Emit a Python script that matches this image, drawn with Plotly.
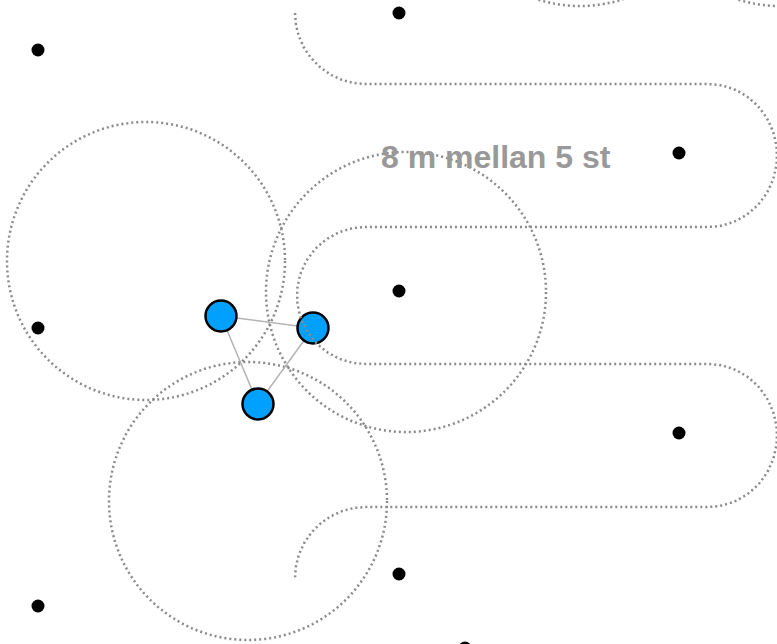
import numpy as np
import plotly.graph_objects as go

# ---- data (pixel-space coordinates of the diagram) ----
dot_x = [38, 38, 38, 399, 399, 399, 679, 679, 465]
dot_y = [50, 328, 606, 13, 291, 574, 153, 433, 648]

node_x = [221, 313, 258]
node_y = [316, 328, 404]

circle_cx = [146, 406, 248, 580, 780]
circle_cy = [261, 292, 501, -134, -134]
circle_r = [139, 140, 139, 140, 140]

label_text = "8 m mellan 5 st"

# serpentine lanes
lane_y = [84, 227, 364, 507]
left_bend_x = 366
right_bend_x = 708

GRAY_DOT = "#8a8a8a"
DASH = "2px,3px"


def arc(cx, cy, rx, ry, t0, t1, n=60):
    t = np.radians(np.linspace(t0, t1, n))
    return list(cx + rx * np.cos(t)), list(cy + ry * np.sin(t))


# build serpentine path
sx, sy = [], []
def add(p):
    sx.extend(p[0]); sy.extend(p[1])

add(arc(left_bend_x, lane_y[0] - 71, 71, 71, 180, 90))
add(([right_bend_x], [lane_y[0]]))
add(arc(right_bend_x, (lane_y[0] + lane_y[1]) / 2, 69, (lane_y[1] - lane_y[0]) / 2, -90, 90))
add(([left_bend_x], [lane_y[1]]))
add(arc(left_bend_x, (lane_y[1] + lane_y[2]) / 2, 69, (lane_y[2] - lane_y[1]) / 2, 270, 90))
add(([right_bend_x], [lane_y[2]]))
add(arc(right_bend_x, (lane_y[2] + lane_y[3]) / 2, 69, (lane_y[3] - lane_y[2]) / 2, -90, 90))
add(([left_bend_x], [lane_y[3]]))
add(arc(left_bend_x, lane_y[3] + 71, 71, 71, 270, 180))

fig = go.Figure()

# edges between nodes
ex = node_x + [node_x[0]]
ey = node_y + [node_y[0]]
fig.add_trace(go.Scatter(x=ex, y=ey, mode="lines",
                         line=dict(color="#b4b4b4", width=1.5),
                         hoverinfo="skip", showlegend=False))

# black dots
fig.add_trace(go.Scatter(x=dot_x, y=dot_y, mode="markers",
                         marker=dict(color="black", size=13, line=dict(width=0)),
                         hoverinfo="skip", showlegend=False))

# blue nodes
fig.add_trace(go.Scatter(x=node_x, y=node_y, mode="markers",
                         marker=dict(color="#00a0ff", size=31,
                                     line=dict(color="black", width=2.5)),
                         hoverinfo="skip", showlegend=False))

# serpentine (drawn on top)
fig.add_trace(go.Scatter(x=sx, y=sy, mode="lines",
                         line=dict(color=GRAY_DOT, width=2.5, dash=DASH),
                         hoverinfo="skip", showlegend=False))

shapes = []
for cx, cy, r in zip(circle_cx, circle_cy, circle_r):
    shapes.append(dict(type="circle", xref="x", yref="y",
                       x0=cx - r, x1=cx + r, y0=cy - r, y1=cy + r,
                       line=dict(color=GRAY_DOT, width=2.5, dash=DASH),
                       layer="below"))

fig.update_layout(
    width=777, height=644,
    margin=dict(l=0, r=0, t=0, b=0),
    paper_bgcolor="white", plot_bgcolor="white",
    xaxis=dict(range=[0, 777], visible=False, fixedrange=True),
    yaxis=dict(range=[644, 0], visible=False, fixedrange=True),
    shapes=shapes,
    annotations=[dict(x=496, y=157, xref="x", yref="y", text=label_text,
                      showarrow=False, xanchor="center", yanchor="middle",
                      font=dict(family="Liberation Sans, Arial", size=32,
                                color="#999999", weight="bold"))],
    showlegend=False,
)

fig.write_html("out.html", config={"displayModeBar": False},
               post_script="document.body.style.margin='0';document.body.style.overflow='hidden';")
